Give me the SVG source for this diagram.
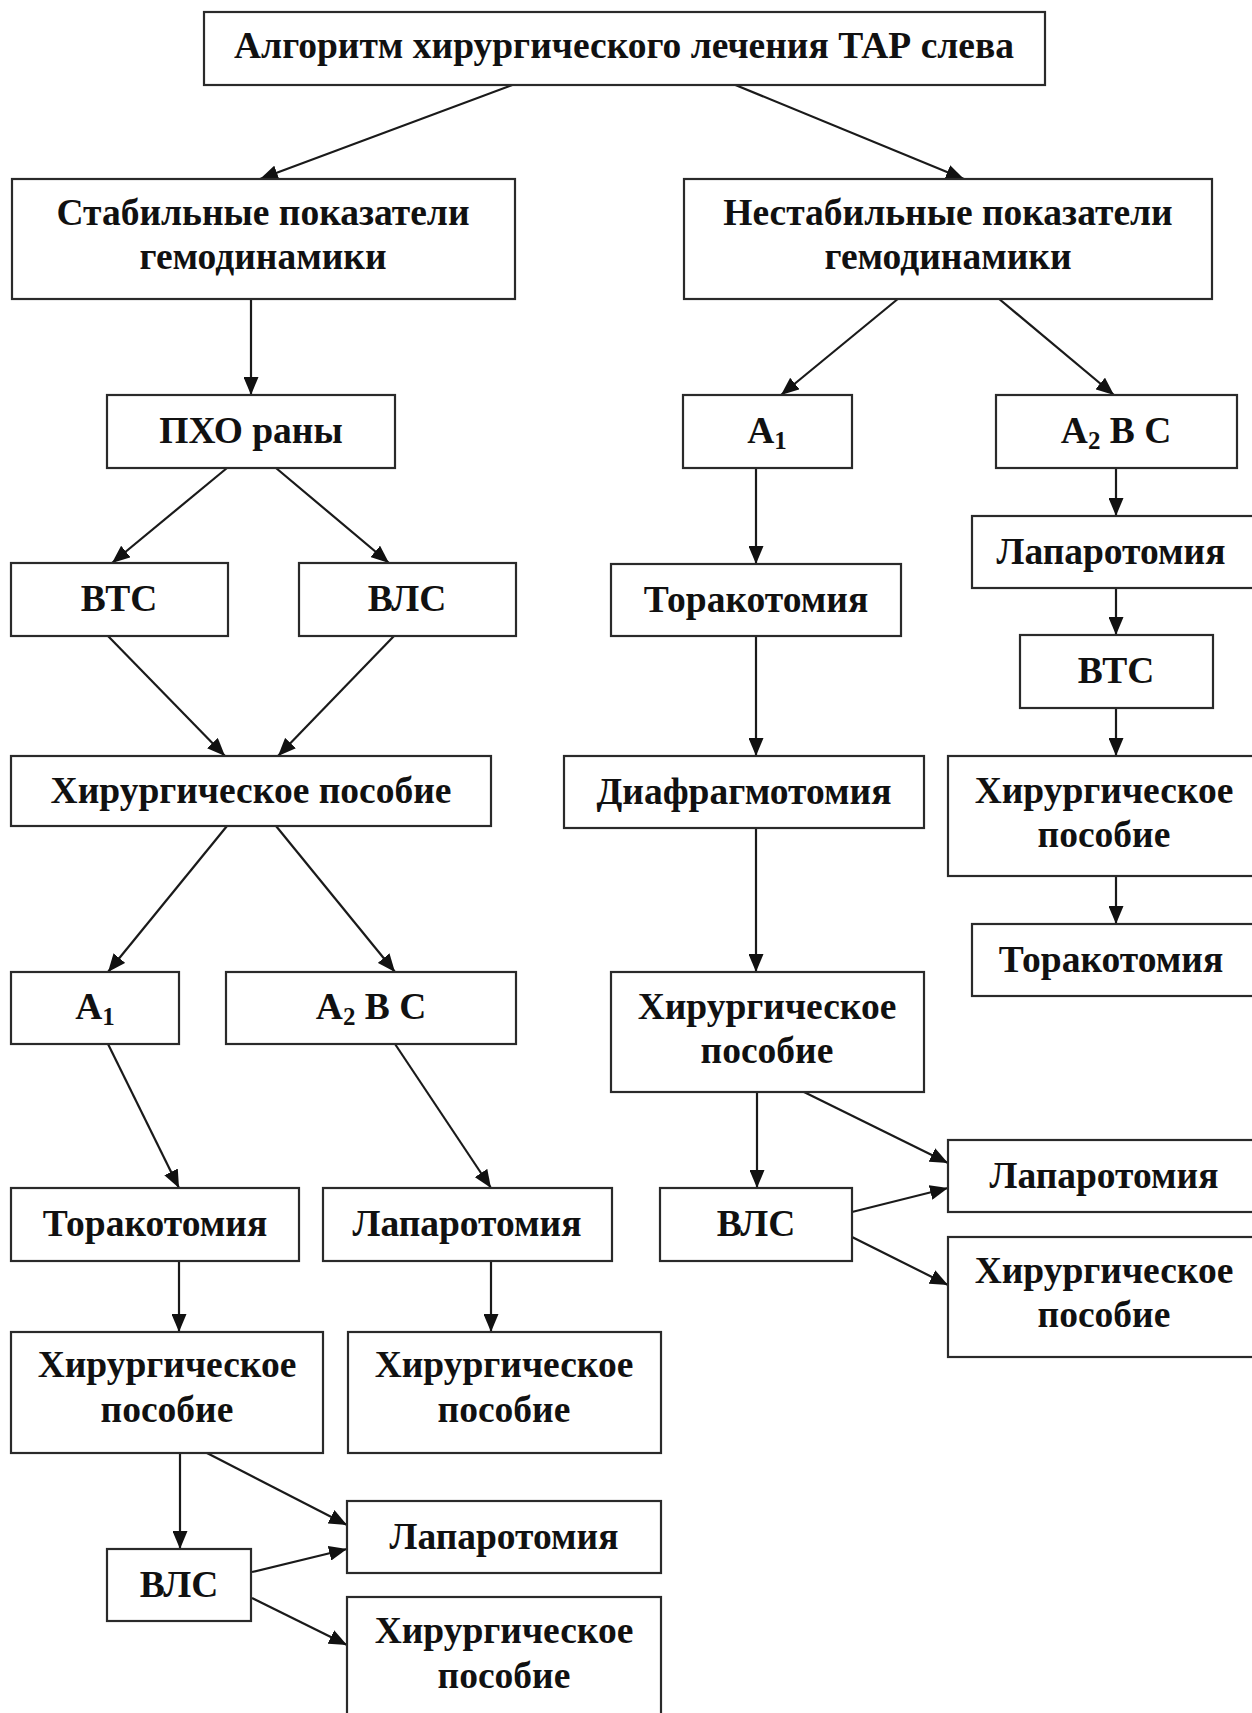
<svg xmlns="http://www.w3.org/2000/svg" width="1252" height="1713" viewBox="0 0 1252 1713">
<style>
.b{fill:#fff;stroke:#2a2a2a;stroke-width:2.2}
.t{font-family:"Liberation Serif","Times New Roman",serif;font-weight:bold;font-size:37.5px;fill:#111;text-anchor:middle}
.c{stroke:#1a1a1a;stroke-width:2.2;fill:none;marker-end:url(#ah)}
.s{font-size:25px}
</style>
<defs>
<marker id="ah" markerUnits="userSpaceOnUse" markerWidth="19" markerHeight="15" refX="18" refY="7.5" orient="auto">
<path d="M0,0 L18,7.5 L0,15 z" fill="#111"/>
</marker>
</defs>
<rect width="1252" height="1713" fill="#fff"/>
<g id="connectors">
<line class="c" x1="515" y1="84" x2="260" y2="179"/>
<line class="c" x1="733" y1="84" x2="964" y2="179"/>
<line class="c" x1="251" y1="298" x2="251" y2="395"/>
<line class="c" x1="227" y1="468" x2="112" y2="563"/>
<line class="c" x1="276" y1="468" x2="389" y2="563"/>
<line class="c" x1="108" y1="636" x2="225" y2="756"/>
<line class="c" x1="394" y1="636" x2="278" y2="756"/>
<line class="c" x1="227" y1="826" x2="108" y2="972"/>
<line class="c" x1="276" y1="826" x2="395" y2="972"/>
<line class="c" x1="108" y1="1044" x2="179" y2="1188"/>
<line class="c" x1="395" y1="1044" x2="491" y2="1188"/>
<line class="c" x1="179" y1="1261" x2="179" y2="1332"/>
<line class="c" x1="491" y1="1261" x2="491" y2="1332"/>
<line class="c" x1="180" y1="1452" x2="180" y2="1549"/>
<line class="c" x1="205" y1="1452" x2="347" y2="1525"/>
<line class="c" x1="252" y1="1572" x2="347" y2="1549"/>
<line class="c" x1="252" y1="1598" x2="347" y2="1645"/>
<line class="c" x1="899" y1="298" x2="781" y2="395"/>
<line class="c" x1="998" y1="298" x2="1114" y2="395"/>
<line class="c" x1="756" y1="468" x2="756" y2="564"/>
<line class="c" x1="756" y1="636" x2="756" y2="756"/>
<line class="c" x1="756" y1="828" x2="756" y2="972"/>
<line class="c" x1="757" y1="1092" x2="757" y2="1188"/>
<line class="c" x1="804" y1="1092" x2="948" y2="1163"/>
<line class="c" x1="852" y1="1212" x2="948" y2="1188"/>
<line class="c" x1="852" y1="1237" x2="948" y2="1285"/>
<line class="c" x1="1116" y1="468" x2="1116" y2="516"/>
<line class="c" x1="1116" y1="588" x2="1116" y2="635"/>
<line class="c" x1="1116" y1="708" x2="1116" y2="756"/>
<line class="c" x1="1116" y1="876" x2="1116" y2="924"/>
</g>
<g id="n-title"><rect class="b" x="204" y="12" width="841" height="73"/><text class="t" x="624" y="58">Алгоритм хирургического лечения ТАР слева</text></g>
<g id="n-stable"><rect class="b" x="12" y="179" width="503" height="120"/><text class="t" x="263" y="225">Стабильные показатели</text><text class="t" x="263" y="269">гемодинамики</text></g>
<g id="n-unstable"><rect class="b" x="684" y="179" width="528" height="120"/><text class="t" x="948" y="225">Нестабильные показатели</text><text class="t" x="948" y="269">гемодинамики</text></g>
<g id="n-pho"><rect class="b" x="107" y="395" width="288" height="73"/><text class="t" x="251" y="443">ПХО раны</text></g>
<g id="n-vts-l"><rect class="b" x="11" y="563" width="217" height="73"/><text class="t" x="119" y="611">ВТС</text></g>
<g id="n-vls-l"><rect class="b" x="299" y="563" width="217" height="73"/><text class="t" x="407" y="611">ВЛС</text></g>
<g id="n-hir-l"><rect class="b" x="11" y="756" width="480" height="70"/><text class="t" x="251" y="803">Хирургическое пособие</text></g>
<g id="n-a1-l"><rect class="b" x="11" y="972" width="168" height="72"/><text class="t" x="95" y="1019">A<tspan class="s" dy="6">1</tspan></text></g>
<g id="n-a2bc-l"><rect class="b" x="226" y="972" width="290" height="72"/><text class="t" x="371" y="1019">A<tspan class="s" dy="6">2</tspan><tspan dy="-6"> B C</tspan></text></g>
<g id="n-tor-l"><rect class="b" x="11" y="1188" width="288" height="73"/><text class="t" x="155" y="1236">Торакотомия</text></g>
<g id="n-lap-l"><rect class="b" x="323" y="1188" width="289" height="73"/><text class="t" x="467" y="1236">Лапаротомия</text></g>
<g id="n-hir-ll"><rect class="b" x="11" y="1332" width="312" height="121"/><text class="t" x="167" y="1377">Хирургическое</text><text class="t" x="167" y="1422">пособие</text></g>
<g id="n-hir-lr"><rect class="b" x="348" y="1332" width="313" height="121"/><text class="t" x="504" y="1377">Хирургическое</text><text class="t" x="504" y="1422">пособие</text></g>
<g id="n-vls-b"><rect class="b" x="107" y="1549" width="144" height="72"/><text class="t" x="179" y="1597">ВЛС</text></g>
<g id="n-lap-b"><rect class="b" x="347" y="1501" width="314" height="72"/><text class="t" x="504" y="1549">Лапаротомия</text></g>
<g id="n-hir-b"><rect class="b" x="347" y="1597" width="314" height="140"/><text class="t" x="504" y="1643">Хирургическое</text><text class="t" x="504" y="1688">пособие</text></g>
<g id="n-a1-r"><rect class="b" x="683" y="395" width="169" height="73"/><text class="t" x="767" y="443">A<tspan class="s" dy="6">1</tspan></text></g>
<g id="n-a2bc-r"><rect class="b" x="996" y="395" width="241" height="73"/><text class="t" x="1116" y="443">A<tspan class="s" dy="6">2</tspan><tspan dy="-6"> B C</tspan></text></g>
<g id="n-lap-r"><rect class="b" x="972" y="516" width="290" height="72"/><text class="t" x="1111" y="564">Лапаротомия</text></g>
<g id="n-vts-r"><rect class="b" x="1020" y="635" width="193" height="73"/><text class="t" x="1116" y="683">ВТС</text></g>
<g id="n-hir-r"><rect class="b" x="948" y="756" width="314" height="120"/><text class="t" x="1104" y="803">Хирургическое</text><text class="t" x="1104" y="847">пособие</text></g>
<g id="n-tor-r"><rect class="b" x="972" y="924" width="290" height="72"/><text class="t" x="1111" y="972">Торакотомия</text></g>
<g id="n-tor-m"><rect class="b" x="611" y="564" width="290" height="72"/><text class="t" x="756" y="612">Торакотомия</text></g>
<g id="n-diaf"><rect class="b" x="564" y="756" width="360" height="72"/><text class="t" x="744" y="804">Диафрагмотомия</text></g>
<g id="n-hir-m"><rect class="b" x="611" y="972" width="313" height="120"/><text class="t" x="767" y="1019">Хирургическое</text><text class="t" x="767" y="1063">пособие</text></g>
<g id="n-vls-m"><rect class="b" x="660" y="1188" width="192" height="73"/><text class="t" x="756" y="1236">ВЛС</text></g>
<g id="n-lap-r2"><rect class="b" x="948" y="1140" width="314" height="72"/><text class="t" x="1104" y="1188">Лапаротомия</text></g>
<g id="n-hir-r2"><rect class="b" x="948" y="1237" width="314" height="120"/><text class="t" x="1104" y="1283">Хирургическое</text><text class="t" x="1104" y="1327">пособие</text></g>
</svg>
